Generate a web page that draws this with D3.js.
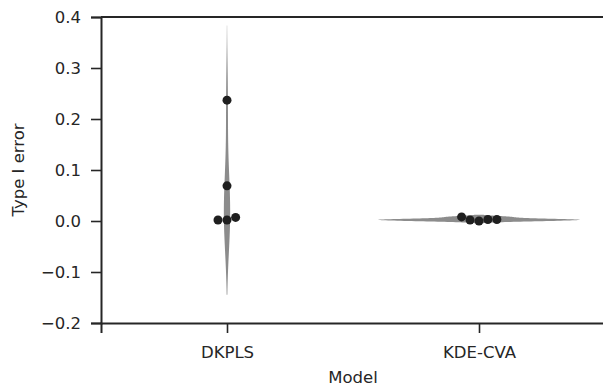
<!DOCTYPE html>
<html>

<head>
    <meta charset="utf-8">
    <style>
        body {
            margin: 0;
            background: #fff;
            font-family: "DejaVu Sans", sans-serif;
        }
    </style>
    <script src="https://cdn.jsdelivr.net/npm/d3@7/dist/d3.min.js"></script>
    <title>Type I error</title>
</head>

<body>
    <div id="chart"></div>

    <script>
        // Data
        const models = ["DKPLS", "KDE-CVA"];
        const dkplsErrors = [0.237, 0.069, 0.002, 0.002, 0.007];
        const kdeCvaErrors = [0.008, 0.002, 0.0, 0.003, 0.003];
        const yTicks = [-0.2, -0.1, 0.0, 0.1, 0.2, 0.3, 0.4];

        const groups = [dkplsErrors, kdeCvaErrors];

        // SVG setup
        const width = 603, height = 386;
        const margin = { top: 17, right: -2, bottom: 63, left: 101 };
        const ink = "#262626";

        const svg = d3.select("#chart").append("svg")
            .attr("width", width)
            .attr("height", height);

        // Scales
        const x = d3.scalePoint()
            .domain(models)
            .range([margin.left, width - margin.right])
            .padding(0.5);

        const y = d3.scaleLinear()
            .domain([-0.2, 0.4])
            .range([height - margin.bottom, margin.top]);

        // Gaussian KDE, Scott bandwidth, cut = 2 (like seaborn)
        const kde = (values) => {
            const n = values.length;
            const bw = d3.deviation(values) * Math.pow(n, -1 / 5);
            const lo = d3.min(values) - 2 * bw, hi = d3.max(values) + 2 * bw;
            const grid = d3.range(100).map(i => lo + (hi - lo) * i / 99);
            return grid.map(v => ({
                v: v,
                d: d3.mean(values, s => Math.exp(-0.5 * ((v - s) / bw) ** 2)) / (bw * Math.sqrt(2 * Math.PI))
            }));
        };

        const densities = groups.map(kde);
        const maxDensity = d3.max(densities, ds => d3.max(ds, p => p.d));
        const halfWidth = x.step() * 0.4;
        const w = d3.scaleLinear().domain([0, maxDensity]).range([0, halfWidth]);

        // Violins
        densities.forEach((ds, i) => {
            const cx = x(models[i]);
            const area = d3.area()
                .y(p => y(p.v))
                .x0(p => cx - w(p.d))
                .x1(p => cx + w(p.d));
            svg.append("path")
                .datum(ds)
                .attr("d", area)
                .attr("fill", "#8c8c8c");
        });

        // Swarm points
        const r = 4.5;
        const dist = 2 * r * 1.0;
        groups.forEach((vals, i) => {
            const cx = x(models[i]);
            const placed = [];
            vals.slice().sort(d3.ascending).forEach(v => {
                const py = y(v);
                const near = placed.filter(p => Math.abs(p.y - py) < dist);
                let cands = [cx];
                near.forEach(p => {
                    const dx = Math.sqrt(Math.max(dist * dist - (p.y - py) ** 2, 0));
                    cands.push(p.x - dx, p.x + dx);
                });
                cands = cands
                    .map((c, k) => ({ c, k }))
                    .sort((a, b) => (Math.abs(a.c - cx) - Math.abs(b.c - cx)) || (a.k - b.k));
                const pick = cands.find(o => near.every(p => Math.hypot(p.x - o.c, p.y - py) >= dist - 1e-6));
                placed.push({ x: pick.c, y: py });
            });
            svg.selectAll(null)
                .data(placed)
                .enter().append("circle")
                .attr("cx", d => d.x)
                .attr("cy", d => d.y)
                .attr("r", r)
                .attr("fill", "#1f1f1f");
        });

        // Axes
        const yAxis = svg.append("g")
            .attr("transform", `translate(${margin.left},0)`)
            .call(d3.axisLeft(y).tickValues(yTicks).tickFormat(d3.format(".1f")).tickSize(10).tickPadding(10));

        const xAxis = svg.append("g")
            .attr("transform", `translate(0,${height - margin.bottom})`)
            .call(d3.axisBottom(x).tickSize(10).tickPadding(13));

        [yAxis, xAxis].forEach(g => {
            g.select(".domain").attr("stroke", ink).attr("stroke-width", 2);
            g.selectAll(".tick line").attr("stroke", ink).attr("stroke-width", 1.6);
            g.selectAll(".tick text")
                .attr("fill", ink)
                .style("font-family", "DejaVu Sans")
                .style("font-size", "16.5px");
        });
        yAxis.selectAll(".tick text").attr("dy", "0.34em");

        // Top spine
        svg.append("line")
            .attr("x1", margin.left).attr("x2", width - margin.right)
            .attr("y1", margin.top).attr("y2", margin.top)
            .attr("stroke", ink)
            .attr("stroke-width", 2);

        // Axis labels
        svg.append("text")
            .attr("x", (margin.left + width - margin.right) / 2)
            .attr("y", 383)
            .attr("text-anchor", "middle")
            .attr("fill", ink)
            .style("font-size", "16.5px")
            .text("Model");

        svg.append("text")
            .attr("transform", `translate(23.5,${(margin.top + height - margin.bottom) / 2}) rotate(-90)`)
            .attr("text-anchor", "middle")
            .attr("fill", ink)
            .style("font-size", "16.5px")
            .text("Type I error");
    </script>
</body>

</html>
